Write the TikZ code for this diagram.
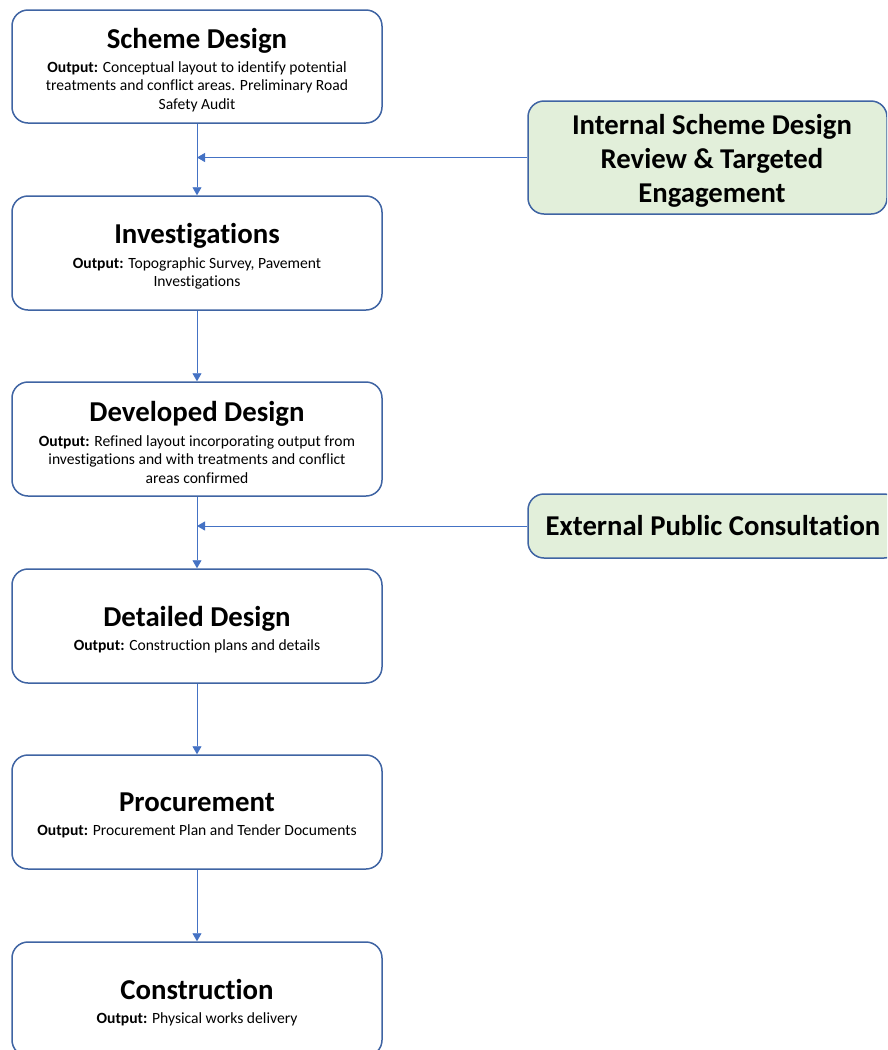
\documentclass[tikz,border=0pt]{standalone}
\usepackage{fontspec}
\setmainfont{Carlito}[Ligatures=NoCommon]
\usetikzlibrary{arrows.meta}
\definecolor{boxline}{HTML}{3F64A3}
\definecolor{arrowline}{HTML}{4472C4}
\definecolor{greenfill}{HTML}{E2EFDA}
\newcommand{\ttl}[1]{{\fontsize{28.8}{34}\selectfont\bfseries #1\par}\vskip 5.5pt}
\newcommand{\bdy}[1]{{\fontsize{15.6}{18.6}\selectfont #1\par}\kern -7pt}
\begin{document}
\begin{tikzpicture}[x=1pt,y=-1pt,
  stagebox/.style={draw=boxline, line width=1.5pt, rounded corners=16pt, fill=white,
    minimum width=370pt, minimum height=114pt, text width=360pt, align=flush center, inner sep=0pt},
  reviewbox/.style={draw=boxline, line width=1.5pt, rounded corners=16pt, fill=greenfill,
    align=flush center, inner sep=0pt, font=\fontsize{28.7}{34}\selectfont\bfseries},
  flow/.style={draw=arrowline, line width=0.9pt, -{Triangle[length=8pt,width=9pt]}}]
\useasboundingbox (0,0) rectangle (887,1050);
\clip (0,0) rectangle (887,1050);

\node[stagebox, minimum height=113pt] (s1) at (197,66.5) {\ttl{Scheme Design}\bdy{\textbf{Output:} Conceptual layout to identify potential\\ treatments and conflict areas. Preliminary Road\\ Safety Audit}};
\node[stagebox] (s2) at (197,253) {\ttl{Investigations}\bdy{\textbf{Output:} Topographic Survey, Pavement\\ Investigations}};
\node[stagebox] (s3) at (197,439) {\ttl{Developed Design}\bdy{\textbf{Output:} Refined layout incorporating output from\\ investigations and with treatments and conflict\\ areas confirmed}};
\node[stagebox] (s4) at (197,626) {\ttl{Detailed Design}\bdy{\textbf{Output:} Construction plans and details}};
\node[stagebox] (s5) at (197,812) {\ttl{Procurement}\bdy{\textbf{Output:} Procurement Plan and Tender Documents}};
\node[stagebox] (s6) at (197,999) {\ttl{Construction}\bdy{\textbf{Output:} Physical works delivery}};

\node[reviewbox, minimum width=359pt, minimum height=113pt, text width=340pt] (r1) at (707.5,157.5) {\hspace*{9pt}Internal Scheme Design\\\hspace*{9pt}Review \& Targeted\\\hspace*{9pt}Engagement\par\kern -6pt};
\node[reviewbox, minimum width=372pt, minimum height=64pt] (r2) at (714,526) {\hspace*{-2pt}External Public Consultation};

\draw[flow] (s1) -- (s2);
\draw[flow] (s2) -- (s3);
\draw[flow] (s3) -- (s4);
\draw[flow] (s4) -- (s5);
\draw[flow] (s5) -- (s6);
\draw[flow] (r1.west) -- (s1.south |- r1.west);
\draw[flow] (r2.west) -- (s3.south |- r2.west);
\end{tikzpicture}
\end{document}
